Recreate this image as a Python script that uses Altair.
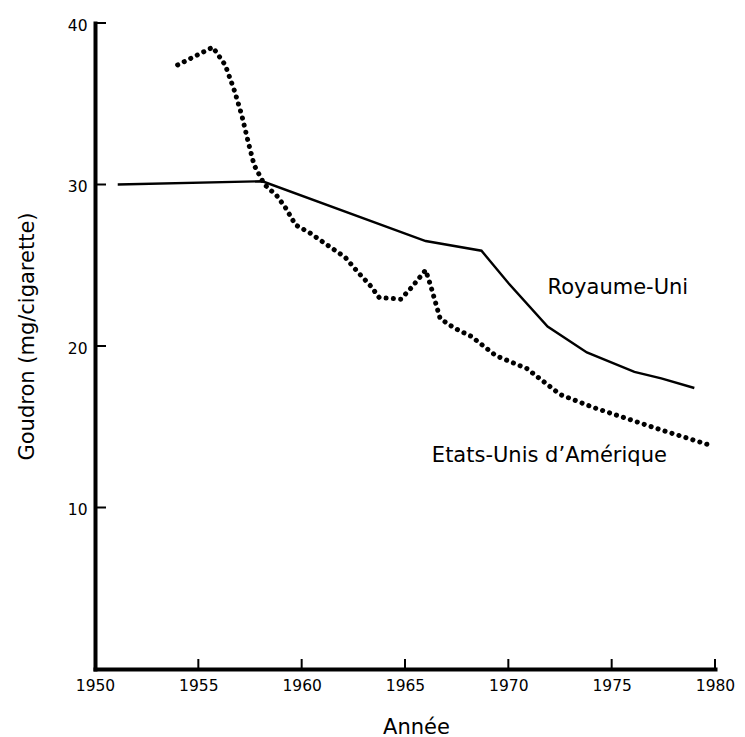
import altair as alt
import pandas as pd

# ---- data ----
uk_years = [1951.1, 1958.1, 1966.0, 1968.7, 1970.0, 1971.9, 1973.8, 1976.1, 1977.4, 1979.0]
uk_values = [30.0, 30.2, 26.5, 25.9, 23.9, 21.2, 19.6, 18.4, 18.0, 17.4]

us_years = [1954.0, 1955.7, 1956.3, 1956.75, 1957.1, 1957.4, 1957.7, 1958.2, 1958.8,
            1959.25, 1959.7, 1960.4, 1961.3, 1962.1, 1962.7, 1963.35, 1963.75, 1964.8,
            1965.3, 1966.0, 1966.25, 1966.7, 1967.4, 1968.2, 1969.4, 1970.9, 1972.5,
            1974.1, 1975.75, 1977.4, 1979.9]
us_values = [37.4, 38.5, 37.4, 35.8, 34.3, 32.7, 31.2, 30.0, 29.3,
             28.5, 27.5, 27.0, 26.2, 25.5, 24.6, 23.7, 23.0, 22.9,
             23.6, 24.7, 23.7, 21.7, 21.1, 20.6, 19.4, 18.6, 17.0,
             16.2, 15.5, 14.8, 13.8]

x_tick_values = [1950, 1955, 1960, 1965, 1970, 1975, 1980]
x_inner_ticks = [1955, 1960, 1965, 1970, 1975, 1980]
y_tick_values = [10, 20, 30, 40]

label_texts = ["Royaume-Uni", "Etats-Unis d\u2019Am\u00e9rique"]
label_years = [1971.9, 1966.3]
label_values = [23.2, 12.8]

FONT = "DejaVu Sans"
W, H = 620, 646

uk = pd.DataFrame({"Année": uk_years, "Goudron": uk_values})
us = pd.DataFrame({"Année": us_years, "Goudron": us_values})
xt = pd.DataFrame({"Année": x_inner_ticks})
yt = pd.DataFrame({"Goudron": y_tick_values})
lab = pd.DataFrame({"Année": label_years, "Goudron": label_values, "txt": label_texts})

x_scale = alt.Scale(domain=[1950, 1980], nice=False, zero=False)
y_scale = alt.Scale(domain=[0, 40], nice=False, zero=True)

x_axis = alt.Axis(
    values=x_tick_values, format="d", title="Année", grid=False,
    ticks=False, tickSize=0, labelPadding=9, labelFlush=False, labelOverlap=False,
    domainWidth=4, domainColor="black", domainCap="square",
    labelFont=FONT, labelFontSize=15.5, labelColor="black",
    titleFont=FONT, titleFontSize=21, titleFontWeight="normal", titleColor="black",
    titleX=321, titleY=64, titleBaseline="alphabetic", titleAlign="center",
)
y_axis = alt.Axis(
    values=y_tick_values, title="Goudron (mg/cigarette)", grid=False,
    ticks=False, tickSize=0, labelPadding=8, labelOverlap=False, labelOffset=2,
    domainWidth=4, domainColor="black", domainCap="square",
    labelFont=FONT, labelFontSize=15.5, labelColor="black",
    titleFont=FONT, titleFontSize=21, titleFontWeight="normal", titleColor="black",
    titleAngle=270, titleX=-62, titleY=313, titleBaseline="alphabetic", titleAlign="center",
)

uk_line = alt.Chart(uk).mark_line(color="black", strokeWidth=2.4).encode(
    x=alt.X("Année:Q", scale=x_scale, axis=x_axis),
    y=alt.Y("Goudron:Q", scale=y_scale, axis=y_axis),
)

us_line = alt.Chart(us).mark_line(
    color="black", strokeWidth=5, strokeDash=[0.1, 7.2], strokeCap="round"
).encode(
    x=alt.X("Année:Q", scale=x_scale),
    y=alt.Y("Goudron:Q", scale=y_scale),
)

x_ticks = alt.Chart(xt).mark_rule(color="black", strokeWidth=2).encode(
    x=alt.X("Année:Q", scale=x_scale),
    y=alt.value(H), y2=alt.value(H - 10),
)
y_ticks = alt.Chart(yt).mark_rule(color="black", strokeWidth=2).encode(
    y=alt.Y("Goudron:Q", scale=y_scale),
    x=alt.value(0), x2=alt.value(11),
)

labels = alt.Chart(lab).mark_text(
    align="left", baseline="alphabetic", font=FONT, fontSize=21, color="black"
).encode(
    x=alt.X("Année:Q", scale=x_scale),
    y=alt.Y("Goudron:Q", scale=y_scale),
    text="txt:N",
)

chart = alt.layer(uk_line, us_line, x_ticks, y_ticks, labels).properties(
    width=W, height=H,
    padding={"left": 87, "top": 15, "right": 22, "bottom": 68},
    autosize=alt.AutoSizeParams(type="none"),
    background="white",
).configure_view(stroke=None)

chart.save("out.html", embed_options={"renderer": "svg", "actions": False})
